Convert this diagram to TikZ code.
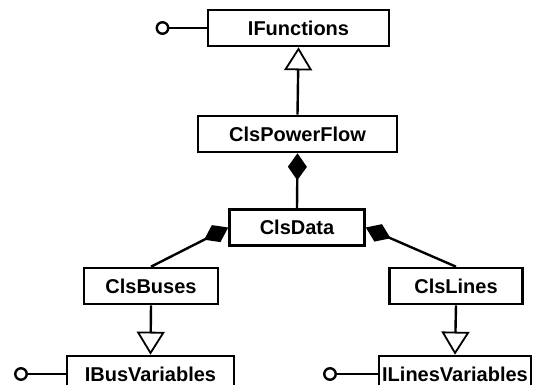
\documentclass[tikz,border=0pt]{standalone}
\usepackage{fontspec}
\setmainfont{Liberation Sans}
\usetikzlibrary{arrows.meta}
\newcommand{\wtxt}[1]{#1}
\begin{document}
\begin{tikzpicture}[x=1pt,y=-1pt,
  box/.style={draw, line width=2.6pt, inner sep=0pt, minimum height=36pt, font=\fontsize{20}{24}\selectfont\bfseries},
  lolli/.style={draw, circle, line width=2.4pt, inner sep=0pt, minimum size=11.5pt},
  conn/.style={line width=2.4pt},
  gen/.style={conn, -{Triangle[open, length=23pt, width=28pt, line width=1.8pt]}},
  comp/.style={conn, -{Diamond[length=27pt, width=19pt]}}]
\useasboundingbox (0,0) rectangle (539,385);
\clip (0,0) rectangle (539,385);
\fill[white] (0,0) rectangle (539,385);
\node[box, minimum width=181pt] (IF) at (298.5,28) {\wtxt{IFunctions}};
\node[box, minimum width=199pt] (PF) at (297.5,134) {\wtxt{ClsPowerFlow}};
\node[box, minimum width=135pt] (CD) at (297,227.5) {\wtxt{ClsData}};
\node[box, minimum width=134pt] (CB) at (151,286) {\wtxt{ClsBuses}};
\node[box, minimum width=133pt] (CL) at (456,286) {\wtxt{ClsLines}};
\node[box, minimum width=167pt] (IB) at (150.5,374) {\wtxt{IBusVariables}};
\node[box, minimum width=152pt] (IL) at (455,374) {\wtxt{ILinesVariables}};
\node[lolli] (L1) at (162.5,28) {};
\node[lolli] (L2) at (21,374) {};
\node[lolli] (L3) at (330,374) {};
\draw[conn] (L1) -- (IF.west);
\draw[conn] (L2) -- (IB.west);
\draw[conn] (L3) -- (IL.west);
\draw[gen] (PF.north) -- (IF.south);
\draw[gen] (CB.south) -- (IB.north);
\draw[gen] (CL.south) -- (IL.north);
\draw[comp] (CD.north) -- (PF.south);
\draw[comp] (CB.north) -- (CD.west);
\draw[comp] (CL.north) -- (CD.east);
\end{tikzpicture}
\end{document}
